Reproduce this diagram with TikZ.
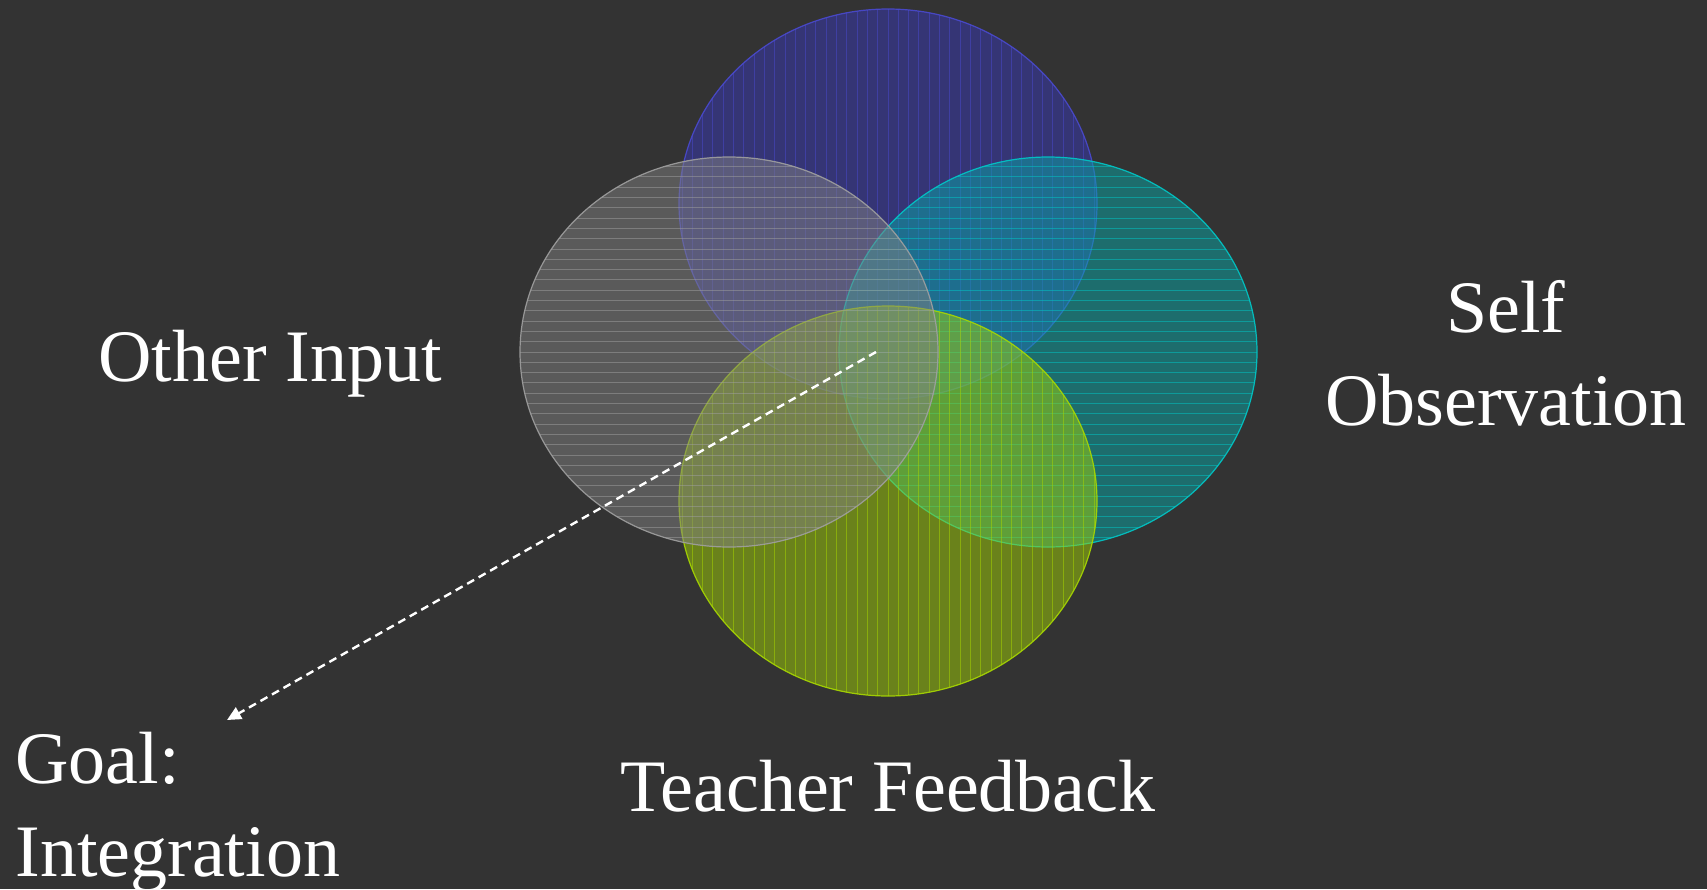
\documentclass[tikz,border=0pt]{standalone}
\usepackage{fontspec}
\setmainfont{Liberation Serif}
\usetikzlibrary{arrows.meta,shapes.geometric}
\definecolor{bgc}{HTML}{333333}
\definecolor{bluef}{HTML}{3838B8}
\definecolor{bluel}{HTML}{4A4AD0}
\definecolor{grayf}{HTML}{818181}
\definecolor{grayl}{HTML}{A0A0A0}
\definecolor{tealf}{HTML}{08A8A8}
\definecolor{teall}{HTML}{00C8C8}
\definecolor{greenf}{HTML}{A1D105}
\definecolor{greenl}{HTML}{A8D800}
\tikzset{
  blob/.style={ellipse, inner sep=0pt, outer sep=0pt, minimum width=209pt, minimum height=195pt, fill opacity=0.5, draw opacity=0.9, line width=0.6pt},
  vhatch/.style={path picture={\foreach \i in {-22,...,22} \draw[#1, line width=0.5pt, draw opacity=0.5] ([xshift=\i*5.15pt]path picture bounding box.north) -- ([xshift=\i*5.15pt]path picture bounding box.south);}},
  hhatch/.style={path picture={\foreach \i in {-21,...,21} \draw[#1, line width=0.5pt, draw opacity=0.5] ([yshift=\i*5.15pt]path picture bounding box.west) -- ([yshift=\i*5.15pt]path picture bounding box.east);}},
  lbl/.style={text=white, inner sep=0pt, font=\fontsize{37}{46.5}\selectfont},
}
\begin{document}
\begin{tikzpicture}[x=0.5pt,y=-0.5pt]
\fill[bgc] (0,0) rectangle (1707,889);
\useasboundingbox (0,0) rectangle (1707,889);
\node[blob, fill=bluef, draw=bluel, vhatch=bluel] (blue) at (888,204) {};
\node[blob, fill=tealf, draw=teall, hhatch=teall] (teal) at (1048,352) {};
\node[blob, fill=greenf, draw=greenl, vhatch=greenl] (green) at (888,501) {};
\node[blob, fill=grayf, draw=grayl, hhatch=grayl] (gray) at (729,352) {};
\node[lbl, anchor=base west] (other) at (98,381) {Other Input};
\node[lbl, anchor=base, align=center] (self) at (1506,425) {Self\\Observation};
\node[lbl, anchor=base] (teacher) at (888,811) {Teacher Feedback};
\node[lbl, anchor=base west, align=left] (goal) at (15,876) {Goal:\\Integration};
\coordinate (hub) at (876,352);
\coordinate (goaltip) at (227,720);
\draw[white, line width=1.2pt, dash pattern=on 4pt off 2.6pt, -{Triangle[length=7pt,width=6.5pt]}] (hub) -- (goaltip);
\end{tikzpicture}
\end{document}
